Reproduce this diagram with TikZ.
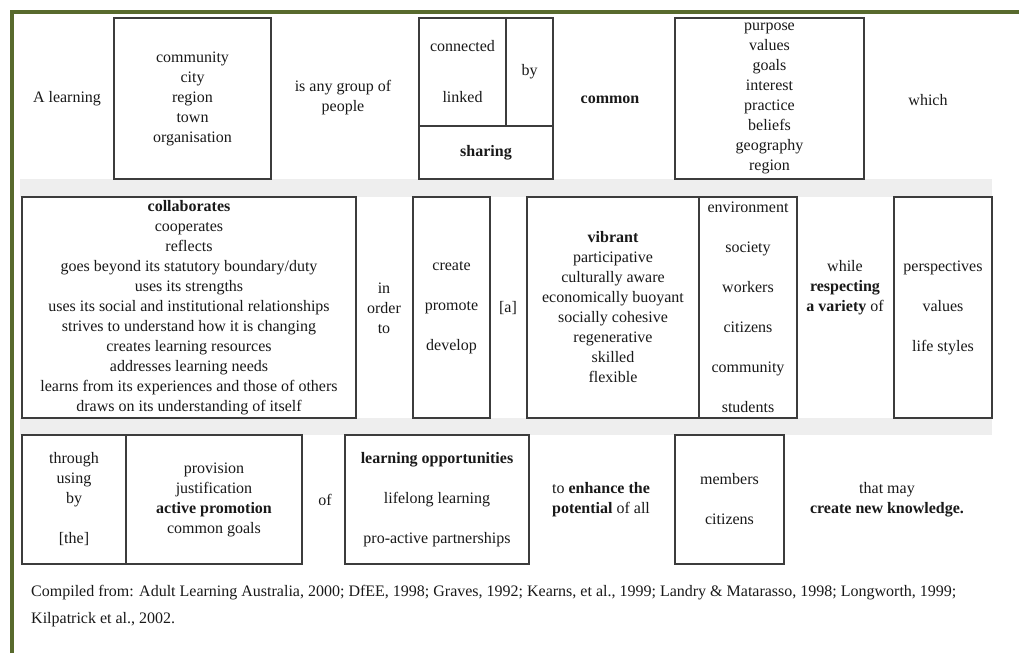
\documentclass[tikz,border=0pt]{standalone}
\usepackage{fontspec}
\setmainfont{Liberation Serif}
\definecolor{frameolive}{RGB}{88,106,45}
\definecolor{bandgray}{RGB}{238,238,238}
\definecolor{boxline}{RGB}{60,60,60}
\definecolor{txtcol}{RGB}{25,25,25}
\begin{document}
\begin{tikzpicture}[x=1pt,y=-1pt,
  lbl/.style={font=\fontsize{16}{20}\selectfont, align=center, inner sep=0pt, text=txtcol},
  box/.style={lbl, draw=boxline, line width=1.3pt, rectangle},
  wide/.style={font=\fontsize{16}{40}\selectfont}]
\useasboundingbox (0,0) rectangle (1019,653);
\fill[white] (0,0) rectangle (1019,653);
% frame
\draw[frameolive, line width=3.5pt] (12,653) -- (12,12) -- (1019,12);
% gray bands
\fill[bandgray] (20,179) rectangle (992,197);
\fill[bandgray] (20,418) rectangle (992,435);
% row 1
\node[lbl] (alearn) at (67,99) {A learning};
\node[box, minimum width=157pt, minimum height=161pt] (comm) at (192.5,98.5)
  {community\\city\\region\\town\\organisation};
\node[lbl] (group) at (343,98) {is any group of\\people};
\node[box, minimum width=87pt, minimum height=108pt, font=\fontsize{16}{51}\selectfont] (conn) at (462.5,72) {connected\\linked};
\node[box, minimum width=47pt, minimum height=108pt] (by) at (529.5,72) {\raisebox{0pt}{by}};
\node[box, minimum width=134pt, minimum height=53pt] (share) at (486,152.5) {\textbf{sharing}};
\node[lbl] (common) at (610,100) {\textbf{common}};
\node[box, minimum width=189pt, minimum height=161pt] (vals) at (769.5,98.5)
  {purpose\\values\\goals\\interest\\practice\\beliefs\\geography\\region};
\node[lbl] (which) at (928,100) {which};
% row 2
\node[box, minimum width=334pt, minimum height=221pt] (collab) at (189,307.5)
  {\textbf{collaborates}\\cooperates\\reflects\\goes beyond its statutory boundary/duty\\uses its strengths\\uses its social and institutional relationships\\strives to understand how it is changing\\creates learning resources\\addresses learning needs\\learns from its experiences and those of others\\draws on its understanding of itself};
\node[lbl] (inorder) at (384,308) {in\\order\\to};
\node[box, wide, minimum width=77pt, minimum height=221pt] (create) at (451.5,307.5) {create\\promote\\develop};
\node[lbl] (art) at (508,308) {[a]};
\node[box, minimum width=172pt, minimum height=221pt] (vibrant) at (613,307.5)
  {\textbf{vibrant}\\participative\\culturally aware\\economically buoyant\\socially cohesive\\regenerative\\skilled\\flexible};
\node[box, wide, minimum width=98pt, minimum height=221pt] (env) at (748,307.5)
  {environment\\society\\workers\\citizens\\community\\students};
\node[lbl] (while) at (845,288) {while\\\textbf{respecting}\\\textbf{a variety} of};
\node[box, wide, minimum width=98pt, minimum height=221pt] (persp) at (943,307.5)
  {perspectives\\values\\life styles};
% row 3
\node[box, minimum width=104pt, minimum height=129pt] (through) at (74,499.5)
  {through\\using\\by\\ \\{[the]}};
\node[box, minimum width=176pt, minimum height=129pt] (prov) at (214,499.5)
  {provision\\justification\\\textbf{active promotion}\\common goals};
\node[lbl] (of) at (325,500) {of};
\node[box, wide, minimum width=184pt, minimum height=129pt] (learnopp) at (437,499.5)
  {\textbf{learning opportunities}\\lifelong learning\\pro-active partnerships};
\node[lbl] (enhance) at (601,500) {to \textbf{enhance the}\\\textbf{potential} of all};
\node[box, wide, minimum width=109pt, minimum height=129pt] (members) at (729.5,499.5)
  {members\\citizens};
\node[lbl] (thatmay) at (887,500) {that may\\\textbf{create new knowledge.}};
% citation
\node[lbl, align=left, anchor=west, font=\fontsize{16}{27}\selectfont] (cite) at (31,606.5)
  {Compiled from: Adult Learning Australia, 2000; DfEE, 1998; Graves, 1992; Kearns, et al., 1999; Landry \& Matarasso, 1998; Longworth, 1999;\\Kilpatrick et al., 2002.};
\end{tikzpicture}
\end{document}
